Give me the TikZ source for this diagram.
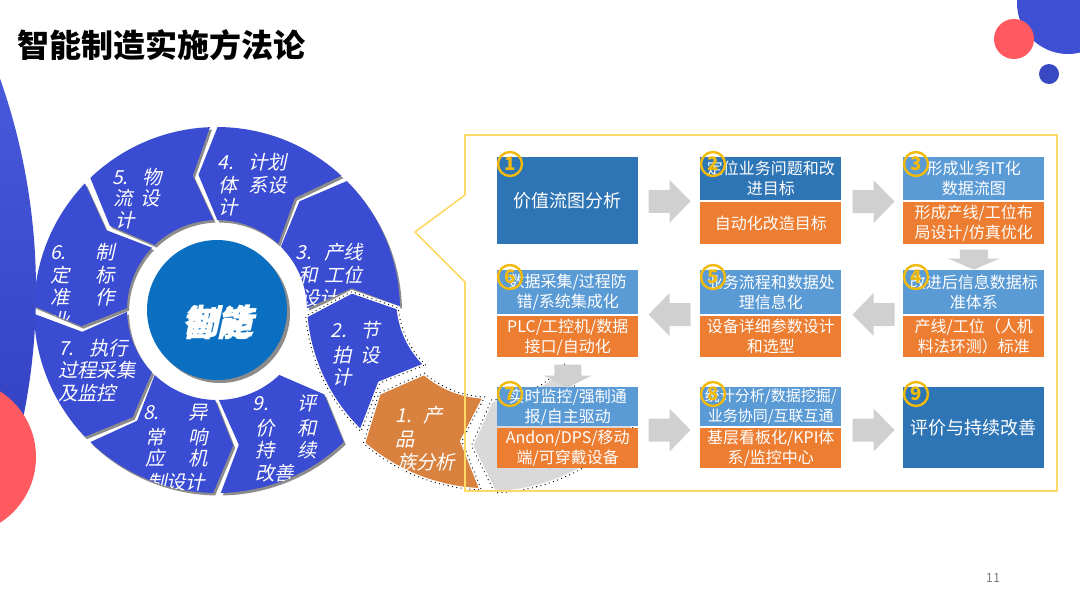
\documentclass[tikz,border=0pt]{standalone}
\usepackage{fontspec}
\setmainfont{Noto Sans CJK SC}
\newfontfamily\slfont{Noto Sans CJK SC}[FakeSlant=0.22]
\usetikzlibrary{calc}
\newdimen\px \px=0.75pt
\definecolor{segblue}{HTML}{3A4CD2}
\definecolor{ctrblue}{HTML}{0A6FC0}
\definecolor{dblue}{HTML}{2E75B6}
\definecolor{lblue}{HTML}{5B9BD5}
\definecolor{orng}{HTML}{ED7D31}
\definecolor{segorg}{HTML}{D9823F}
\definecolor{agray}{HTML}{D0D0D0}
\definecolor{shgray}{HTML}{D9D9D9}
\definecolor{yel}{HTML}{FFD966}
\definecolor{gold}{HTML}{F2BA0C}
\definecolor{coral}{HTML}{FF5A5F}
\definecolor{decoblue}{HTML}{3E4FD3}
\definecolor{decotop}{HTML}{4A5BDC}
\definecolor{decobot}{HTML}{2D3CBD}
% ring segment: cx cy rin rout a0(notch end) a1(tip end) tipoffset
\newcommand\segp[7]{plot[domain=#5:#6,samples=30,variable=\ang] ({#1+#3*cos(\ang)},{#2-#3*sin(\ang)}) -- ({#1+0.5*(#3+#4)*cos((#6)+(#7))},{#2-0.5*(#3+#4)*sin((#6)+(#7))}) -- plot[domain=#6:#5,samples=30,variable=\ang] ({#1+#4*cos(\ang)},{#2-#4*sin(\ang)}) -- ({#1+0.5*(#3+#4)*cos((#5)+(#7))},{#2-0.5*(#3+#4)*sin((#5)+(#7))}) -- cycle}
\tikzset{
  st/.style={anchor=west, inner sep=0pt, text=white, font=\slfont\fontsize{14.5pt}{16pt}\selectfont},
  ctrtext/.style={inner sep=0pt, text=white, font=\slfont\bfseries\fontsize{26pt}{28pt}\selectfont},
  shadowc/.style={fill=black!45},
  dotline/.style={black, line width=1.3\px, dash pattern=on 0pt off 3.3pt, line cap=round},
  whiteline/.style={white, line width=3.5\px},
  bx/.style={anchor=north west, inner sep=0pt, minimum width=141\px, text width=136\px, text=white, align=center, font=\fontsize{12pt}{15pt}\selectfont},
  bdark/.style={bx, fill=dblue},
  blight/.style={bx, fill=lblue},
  borng/.style={bx, fill=orng},
  numc/.style={circle, draw=gold, line width=2.4\px, minimum size=24\px, inner sep=0pt, text=gold, font=\bfseries\fontsize{14pt}{14pt}\selectfont},
  barrow/.style={fill=agray}
}
\begin{document}
\begin{tikzpicture}[x=0.75pt,y=-0.75pt]
\useasboundingbox (0,0) rectangle (1080,608);
\fill[white] (0,0) rectangle (1080,608);
\begin{scope}
  \clip (0,0) rectangle (1080,608);
  \begin{scope}
    \clip (-600,290) circle[radius=636\px];
    \shade[top color=decotop, bottom color=decobot] (-10,40) rectangle (60,540);
  \end{scope}
  \fill[coral] (-42,457) circle[radius=78\px];
  \fill[decoblue] (1068,3) circle[radius=51\px];
  \fill[coral] (1014,39) circle[radius=20\px];
  \fill[decoblue!92!black] (1049,74) circle[radius=10\px];
\end{scope}

% title
\node[anchor=west, inner sep=0pt, font=\bfseries\fontsize{24pt}{28pt}\selectfont] (title) at (17,45) {智能制造实施方法论};

% main wheel
\foreach \sa/\sb in {1.2/44.8,47.2/89.8,92.2/133.8,136.2/178.8,181.2/223.8,226.2/268.8,271.2/313.8}
  {\fill[shadowc] \segp{219}{312.5}{90}{183}{\sa}{\sb}{8};}
\foreach \sa/\sb in {1.2/44.8,47.2/89.8,92.2/133.8,136.2/178.8,181.2/223.8,226.2/268.8,271.2/313.8}
  {\fill[segblue] \segp{217}{310}{90}{183}{\sa}{\sb}{8};}

\begin{scope}
  \clip \segp{217}{310}{90}{183}{1.2}{44.8}{8};
  \node[st] (s3a) at (295,252) {\makebox[68\px][l]{3.\hfill 产线}};
  \node[st] (s3b) at (298,275) {\makebox[65\px][l]{和\hfill 工位}};
  \node[st] (s3c) at (300,298) {设计};
\end{scope}
\begin{scope}
  \clip \segp{217}{310}{90}{183}{47.2}{89.8}{8};
  \node[st] (s4a) at (217,162) {\makebox[70\px][l]{4.\hfill 计划}};
  \node[st] (s4b) at (218,185) {\makebox[69\px][l]{体\hfill 系设}};
  \node[st] (s4c) at (218,207) {计};
\end{scope}
\begin{scope}
  \clip \segp{217}{310}{90}{183}{92.2}{133.8}{8};
  \node[st] (s5a) at (112,177) {\makebox[50\px][l]{5.\hfill 物}};
  \node[st] (s5b) at (113,198) {\makebox[47\px][l]{流\hfill 设}};
  \node[st] (s5c) at (115,220) {计};
\end{scope}
\begin{scope}
  \clip \segp{217}{310}{90}{183}{136.2}{178.8}{8};
  \node[st] (s6a) at (50,252) {\makebox[65\px][l]{6.\hfill 制}};
  \node[st] (s6b) at (50,275) {\makebox[65\px][l]{定\hfill 标}};
  \node[st] (s6c) at (50,297) {\makebox[65\px][l]{准\hfill 作}};
  \node[st] (s6d) at (50,320) {业};
\end{scope}
\begin{scope}
  \clip \segp{217}{310}{90}{183}{181.2}{223.8}{8};
  \node[st] (s7a) at (58,348) {\makebox[70\px][l]{7.\hfill 执行}};
  \node[st] (s7b) at (58,370) {过程采集};
  \node[st] (s7c) at (58,393) {及监控};
\end{scope}
\begin{scope}
  \clip \segp{217}{310}{90}{183}{226.2}{268.8}{8};
  \node[st] (s8a) at (143,413) {\makebox[65\px][l]{8.\hfill 异}};
  \node[st] (s8b) at (145,437) {\makebox[63\px][l]{常\hfill 响}};
  \node[st] (s8c) at (145,458) {\makebox[63\px][l]{应\hfill 机}};
  \node[st] (s8d) at (147,482) {制设计};
\end{scope}
\begin{scope}
  \clip \segp{217}{310}{90}{183}{271.2}{313.8}{8};
  \node[st] (s9a) at (252,403) {\makebox[65\px][l]{9.\hfill 评}};
  \node[st] (s9b) at (255,428) {\makebox[62\px][l]{价\hfill 和}};
  \node[st] (s9c) at (255,450) {\makebox[62\px][l]{持\hfill 续}};
  \node[st] (s9d) at (255,473) {改善};
\end{scope}

% centre
\fill[black!45] (220,313) circle[radius=70\px];
\fill[ctrblue] (217,310) circle[radius=70\px];
\node[ctrtext] (c1) at (216,323) {智能};
\node[ctrtext] (c2) at (219,321) {制造};

% exploded segments (second ring)
\fill[segblue] \segp{488}{300}{90}{183}{226}{185}{-8.5};
\draw[whiteline] \segp{488}{300}{90}{183}{226}{185}{-8.5};
\draw[dotline] \segp{488}{300}{90}{183}{226}{185}{-8.5};
\begin{scope}
  \clip \segp{488}{300}{90}{183}{226}{185}{-8.5};
  \node[st] (s2a) at (330,330) {\makebox[50\px][l]{2.\hfill 节}};
  \node[st] (s2b) at (332,355) {\makebox[48\px][l]{拍\hfill 设}};
  \node[st] (s2c) at (332,377) {计};
\end{scope}

\fill[segorg] \segp{488}{300}{97}{190}{268}{229}{-8.5};
\draw[whiteline] \segp{488}{300}{97}{190}{268}{229}{-8.5};
\draw[dotline] \segp{488}{300}{97}{190}{268}{229}{-8.5};
\node[st] (s1a) at (395,415) {\makebox[48\px][l]{1.\hfill 产}};
\node[st] (s1b) at (395,440) {品};
\node[st] (s1c) at (397,462) {族分析};

\fill[shgray] \segp{488}{300}{100}{193}{320}{272}{-8.5};
\draw[whiteline] \segp{488}{300}{100}{193}{320}{272}{-8.5};
\draw[dotline] \segp{488}{300}{100}{193}{320}{272}{-8.5};

% callout frame
\draw[yel, line width=1.6\px, line join=miter] (465,135) -- (1057,135) -- (1057,491) -- (465,491) -- (465,282) -- (415,232) -- (465,195) -- cycle;

% boxes
\node[bdark, minimum height=87\px, font=\fontsize{13.5pt}{16pt}\selectfont] (b1) at (497,157) {价值流图分析};
\node[bdark, minimum height=43\px] (b2t) at (700,157) {定位业务问题和改\\进目标};
\node[borng, minimum height=42\px] (b2b) at (700,202) {自动化改造目标};
\node[blight, minimum height=43\px] (b3t) at (903,157) {形成业务IT化\\数据流图};
\node[borng, minimum height=42\px] (b3b) at (903,202) {形成产线/工位布\\局设计/仿真优化};

\node[blight, minimum height=44\px] (b6t) at (497,270) {数据采集/过程防\\错/系统集成化};
\node[borng, minimum height=41\px] (b6b) at (497,316) {PLC/工控机/数据\\接口/自动化};
\node[blight, minimum height=44\px] (b5t) at (700,270) {业务流程和数据处\\理信息化};
\node[borng, minimum height=41\px] (b5b) at (700,316) {设备详细参数设计\\和选型};
\node[blight, minimum height=44\px] (b4t) at (903,270) {改进后信息数据标\\准体系};
\node[borng, minimum height=41\px] (b4b) at (903,316) {产线/工位（人机\\料法环测）标准};

\node[blight, minimum height=39\px] (b7t) at (497,387) {实时监控/强制通\\报/自主驱动};
\node[borng, minimum height=40\px] (b7b) at (497,428) {Andon/DPS/移动\\端/可穿戴设备};
\node[blight, minimum height=39\px, font=\fontsize{11.25pt}{15pt}\selectfont] (b8t) at (700,387) {统计分析/数据挖掘/\\业务协同/互联互通};
\node[borng, minimum height=40\px] (b8b) at (700,428) {基层看板化/KPI体\\系/监控中心};
\node[bdark, minimum height=81\px, font=\fontsize{13.5pt}{16pt}\selectfont] (b9) at (903,387) {评价与持续改善};

% block arrows
\coordinate (ra1) at ($(b1.east)+(10,0.5)$);
\coordinate (ra2) at ($(b2t.south east)+(11,1)$);
\coordinate (ra3) at ($(b7t.south east)+(10,3.5)$);
\coordinate (ra4) at ($(b8t.south east)+(11,3.5)$);
\foreach \c in {ra1,ra2,ra3,ra4}
  {\fill[barrow] (\c) ++(0,-11.5) -- ++(21,0) -- ++(0,-10) -- ++(21,21.5) -- ++(-21,21.5) -- ++(0,-10) -- ++(-21,0) -- cycle;}
\coordinate (la1) at ($(b6t.south east)+(10,0)$);
\coordinate (la2) at ($(b5t.south east)+(11,0)$);
\foreach \c in {la1,la2}
  {\fill[barrow] (\c) -- ++(21,-21.5) -- ++(0,10) -- ++(21,0) -- ++(0,23) -- ++(-21,0) -- ++(0,10) -- cycle;}
\coordinate (da1) at ($(b3b.south)+(-14,5)$);
\fill[barrow] (da1) -- ++(28,0) -- ++(0,9) -- ++(12,0) -- ++(-26,11) -- ++(-26,-11) -- ++(12,0) -- cycle;
\coordinate (da2) at ($(b6b.south)+(-13.5,7)$);
\fill[barrow] (da2) -- ++(27,0) -- ++(0,11) -- ++(10.5,0) -- ++(-24,12) -- ++(-24,-12) -- ++(10.5,0) -- cycle;

% number badges
\node[numc] (n1) at (510,164) {1};
\node[numc] (n2) at (713,164) {2};
\node[numc] (n3) at (916,164) {3};
\node[numc] (n6) at (510,277) {6};
\node[numc] (n5) at (713,277) {5};
\node[numc] (n4) at (916,277) {4};
\node[numc] (n7) at (510,394) {7};
\node[numc] (n8) at (713,394) {8};
\node[numc] (n9) at (916,394) {9};

% page number
\node[inner sep=0pt, text=black!50, font=\fontsize{9.5pt}{10pt}\selectfont] (pg) at (993,578) {11};
\end{tikzpicture}
\end{document}
